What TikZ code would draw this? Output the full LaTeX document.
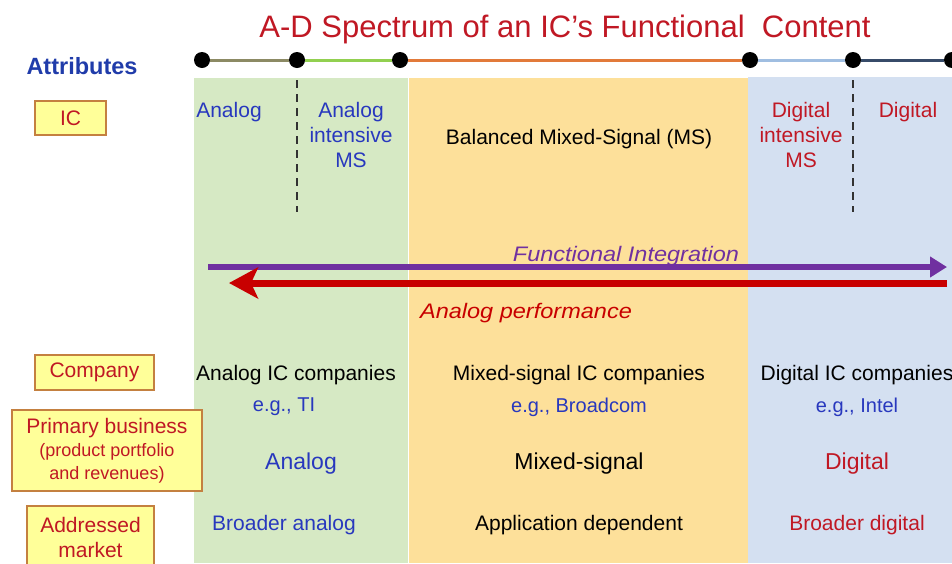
\documentclass[tikz,border=0pt]{standalone}
\usepackage{fontspec}
\setmainfont{Liberation Sans}
\usetikzlibrary{arrows.meta}
\definecolor{colgreen}{RGB}{214,233,196}
\definecolor{colyellow}{RGB}{253,224,154}
\definecolor{colblue}{RGB}{212,224,241}
\definecolor{boxfill}{RGB}{255,255,153}
\definecolor{boxborder}{RGB}{196,128,64}
\definecolor{redtxt}{RGB}{192,24,36}
\definecolor{bluetxt}{RGB}{40,56,190}
\definecolor{attrblue}{RGB}{32,60,170}
\definecolor{purplearr}{RGB}{112,48,160}
\definecolor{redarr}{RGB}{200,0,0}
\definecolor{segA}{RGB}{140,138,100}
\definecolor{segB}{RGB}{146,208,80}
\definecolor{segC}{RGB}{226,122,58}
\definecolor{segD}{RGB}{160,190,225}
\definecolor{segE}{RGB}{55,75,105}
\definecolor{dashgray}{RGB}{50,50,50}
\tikzset{
  txt/.style={inner sep=0pt, align=center, font=\fontsize{21}{25}\selectfont},
  bigtxt/.style={inner sep=0pt, align=center, font=\fontsize{23}{27}\selectfont},
  attrbox/.style={draw=boxborder, fill=boxfill, line width=1.5pt, inner sep=0pt,
    align=center, text=redtxt, font=\fontsize{21}{25}\selectfont},
  dotnode/.style={circle, fill=black, minimum size=16pt, inner sep=0pt},
  segline/.style={line width=3pt},
  dashline/.style={dashed, dash pattern=on 8pt off 6pt, line width=1.8pt, draw=dashgray},
}
\begin{document}
\begin{tikzpicture}[x=1pt, y=-1pt]
\useasboundingbox (0,0) rectangle (952,563);
\clip (0,0) rectangle (952,563);
\fill[white] (0,0) rectangle (952,563);
% columns
\fill[colgreen] (194,78) rectangle (408,563);
\fill[colyellow] (409,78) rectangle (748,563);
\fill[colblue] (748,77) rectangle (952,563);
% title
\node[inner sep=0pt, text=redtxt, font=\fontsize{31}{36}\selectfont] (title) at (565,29) {A-D Spectrum of an IC’s Functional\ \ Content};
\node[inner sep=0pt, text=attrblue, font=\fontsize{23.5}{27}\selectfont\bfseries] (attr) at (82,66) {Attributes};
% top line
\node[dotnode] (d1) at (202,60) {};
\node[dotnode] (d2) at (297,60) {};
\node[dotnode] (d3) at (400,60) {};
\node[dotnode] (d4) at (750,60) {};
\node[dotnode] (d5) at (853,60) {};
\node[dotnode] (d6) at (952,60) {};
\draw[segline, segA] (d1) -- (d2);
\draw[segline, segB] (d2) -- (d3);
\draw[segline, segC] (d3) -- (d4);
\draw[segline, segD] (d4) -- (d5);
\draw[segline, segE] (d5) -- (d6);
% dashed dividers
\coordinate (v1t) at (297,80);
\coordinate (v1b) at (297,212);
\coordinate (v2t) at (853,80);
\coordinate (v2b) at (853,212);
\draw[dashline] (v1t) -- (v1b);
\draw[dashline] (v2t) -- (v2b);
% IC row labels
\node[txt, text=bluetxt] (ica) at (229,112) {Analog};
\node[txt, text=bluetxt, anchor=north] (icai) at (351,102) {Analog\\intensive\\MS};
\node[txt, text=black] (icms) at (579,139) {Balanced Mixed-Signal (MS)};
\node[txt, text=redtxt, anchor=north] (icdi) at (801,102) {Digital\\intensive\\MS};
\node[txt, text=redtxt] (icd) at (908,112) {Digital};
% attribute boxes
\node[attrbox, minimum width=71pt, minimum height=34pt] (bic) at (70.5,118) {IC};
\node[attrbox, minimum width=119pt, minimum height=35pt] (bco) at (94.5,372.5) {Company};
\node[attrbox, minimum width=190pt, minimum height=81pt] (bpb) at (107,450.5)
  {Primary business\\[-2pt]{\fontsize{18}{22}\selectfont (product portfolio}\\[-2pt]{\fontsize{18}{22}\selectfont and revenues)}};
\node[attrbox, minimum width=127pt, minimum height=62pt] (bam) at (90.5,537) {Addressed\\market};
% arrows
\coordinate (fiL) at (208,267);
\coordinate (fiR) at (947,267);
\draw[purplearr, line width=6.5pt, -{Triangle[length=17pt, width=20pt]}] (fiL) -- (fiR);
\coordinate (apR) at (947,283);
\coordinate (apL) at (229,283);
\draw[redarr, line width=7pt, -{Stealth[length=29pt, width=31pt, inset=7pt]}] (apR) -- (apL);
\node[inner sep=0pt, text=purplearr, font=\fontsize{21}{25}\selectfont\itshape, xscale=1.12] (fi) at (626,256) {Functional Integration};
\node[inner sep=0pt, text=redarr, font=\fontsize{21}{25}\selectfont\itshape, xscale=1.12] (ap) at (526,313) {Analog performance};
% Company row
\node[txt, text=black] (c1) at (296,375) {Analog IC companies};
\node[txt, text=bluetxt, font=\fontsize{20}{24}\selectfont] (e1) at (284,407) {e.g., TI};
\node[txt, text=black] (c2) at (579,375) {Mixed-signal IC companies};
\node[txt, text=bluetxt, font=\fontsize{20}{24}\selectfont] (e2) at (579,407) {e.g., Broadcom};
\node[txt, text=black] (c3) at (857,375) {Digital IC companies};
\node[txt, text=bluetxt, font=\fontsize{20}{24}\selectfont] (e3) at (857,407) {e.g., Intel};
% Primary business row
\node[bigtxt, text=bluetxt] (p1) at (301,464) {Analog};
\node[bigtxt, text=black] (p2) at (579,464) {Mixed-signal};
\node[bigtxt, text=redtxt] (p3) at (857,464) {Digital};
% Addressed market row
\node[txt, text=bluetxt] (m1) at (284,525) {Broader analog};
\node[txt, text=black] (m2) at (579,525) {Application dependent};
\node[txt, text=redtxt] (m3) at (857,525) {Broader digital};
\end{tikzpicture}
\end{document}
